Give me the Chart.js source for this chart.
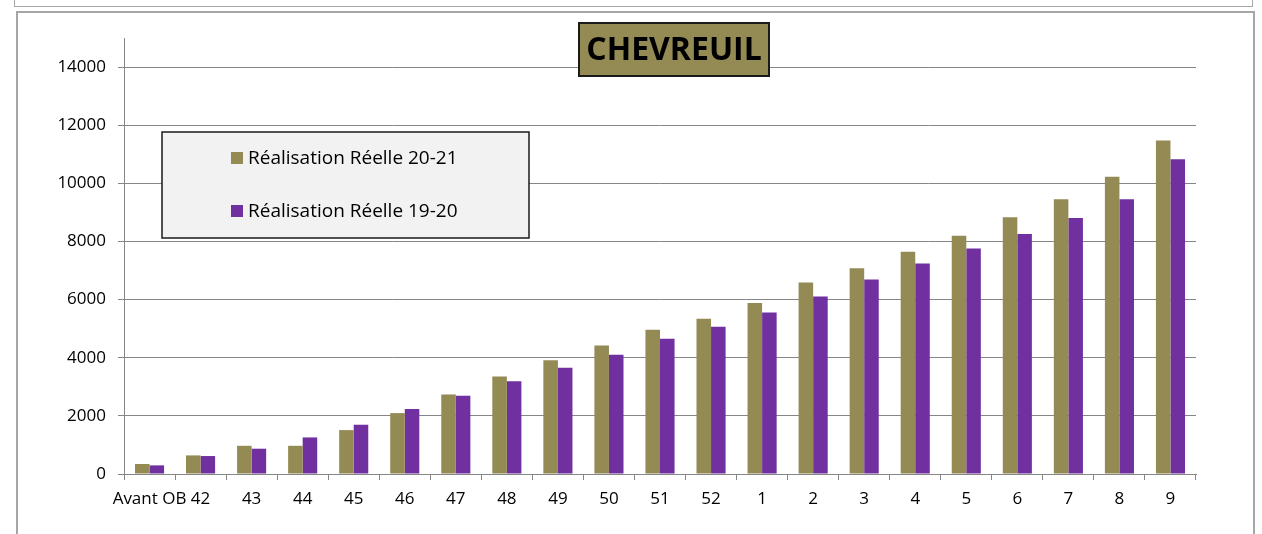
<!DOCTYPE html>
<html>
<head>
<meta charset="utf-8">
<script src="https://cdn.jsdelivr.net/npm/chart.js@4.4.1/dist/chart.umd.min.js"></script>
<style>
  html, body { margin: 0; padding: 0; background: #fff; width: 1262px; height: 534px; overflow: hidden; }
  #prev { position: absolute; left: 14px; top: -10px; width: 1237px; height: 16px; border: 1px solid #a6a6a6; border-top: none; }
  #box { position: absolute; left: 16px; top: 11px; width: 1235px; height: 600px; border: 2px solid #a6a6a6; border-bottom: none; }
  #wrap { position: absolute; left: 0; top: 0; width: 1262px; height: 534px; }
</style>
</head>
<body>
<div id="prev"></div>
<div id="box"></div>
<div id="wrap"><canvas id="c" width="1262" height="534"></canvas></div>
<script>
const chartTitle = 'CHEVREUIL';
const categories = ['Avant OB','42','43','44','45','46','47','48','49','50','51','52','1','2','3','4','5','6','7','8','9'];
const series2021Label = 'Réalisation Réelle 20-21';
const series1920Label = 'Réalisation Réelle 19-20';
const series2021 = [345, 640, 970, 970, 1510, 2095, 2735, 3355, 3910, 4425, 4965, 5345, 5885, 6585, 7080, 7645, 8195, 8830, 9450, 10230, 11470];
const series1920 = [297, 618, 870, 1258, 1695, 2232, 2690, 3195, 3658, 4105, 4657, 5070, 5553, 6105, 6690, 7240, 7760, 8260, 8810, 9455, 10830];
const yTicks = [0, 2000, 4000, 6000, 8000, 10000, 12000, 14000];

const FONT = 'Open Sans';

const boxesPlugin = {
  id: 'boxes',
  afterDraw(chart) {
    const ctx = chart.ctx;
    // Title box
    ctx.save();
    ctx.font = 'bold 32px "' + FONT + '"';
    const bw = 190, bh = 53;
    const bx = 579, by = 23;
    ctx.fillStyle = '#948A54';
    ctx.fillRect(bx, by, bw, bh);
    ctx.lineWidth = 2;
    ctx.strokeStyle = '#1a1a1a';
    ctx.strokeRect(bx, by, bw, bh);
    ctx.fillStyle = '#000';
    ctx.textAlign = 'center';
    ctx.textBaseline = 'middle';
    ctx.fillText(chartTitle, bx + bw / 2, by + bh / 2 + 1);
    ctx.restore();

    // Legend box
    ctx.save();
    const lx = 162, ly = 132, lw = 367, lh = 106;
    ctx.fillStyle = '#F2F2F2';
    ctx.fillRect(lx, ly, lw, lh);
    ctx.lineWidth = 1.5;
    ctx.strokeStyle = '#1a1a1a';
    ctx.strokeRect(lx, ly, lw, lh);
    ctx.font = '19px "' + FONT + '"';
    ctx.textBaseline = 'middle';
    ctx.textAlign = 'left';
    const rows = [158, 211];
    chart.data.datasets.forEach((ds, i) => {
      const y = rows[i];
      ctx.fillStyle = ds.backgroundColor;
      ctx.fillRect(231, y - 6, 12, 12);
      ctx.fillStyle = '#000';
      ctx.fillText(ds.label, 248, y + 1);
    });
    ctx.restore();
  }
};

new Chart(document.getElementById('c'), {
  type: 'bar',
  data: {
    labels: categories,
    datasets: [
      { label: series2021Label, data: series2021, backgroundColor: '#948A54', borderWidth: 0 },
      { label: series1920Label, data: series1920, backgroundColor: '#7030A0', borderWidth: 0 }
    ]
  },
  options: {
    responsive: false,
    animation: false,
    devicePixelRatio: 1,
    layout: { padding: { left: 0, right: 66, top: 38, bottom: 0 } },
    plugins: { legend: { display: false }, title: { display: false }, tooltip: { enabled: false } },
    datasets: { bar: { categoryPercentage: 0.57, barPercentage: 1.0 } },
    scales: {
      x: {
        grid: { display: true, drawOnChartArea: false, drawTicks: true, tickLength: 6, color: '#868686', offset: true },
        border: { color: '#868686', width: 1 },
        ticks: { color: '#000', font: { family: FONT, size: 17 }, padding: 9, maxRotation: 0, autoSkip: false },
        afterFit(scale) { scale.height = 60; }
      },
      y: {
        min: 0,
        max: 15000,
        afterBuildTicks(scale) { scale.ticks = yTicks.map(v => ({ value: v })); },
        grid: { color: '#868686', tickLength: 6, lineWidth: 1 },
        border: { color: '#868686', width: 1 },
        ticks: { color: '#000', font: { family: FONT, size: 17 }, padding: 12, callback: v => String(v) },
        afterFit(scale) { scale.width = 124; }
      }
    }
  },
  plugins: [boxesPlugin]
});
</script>
</body>
</html>
